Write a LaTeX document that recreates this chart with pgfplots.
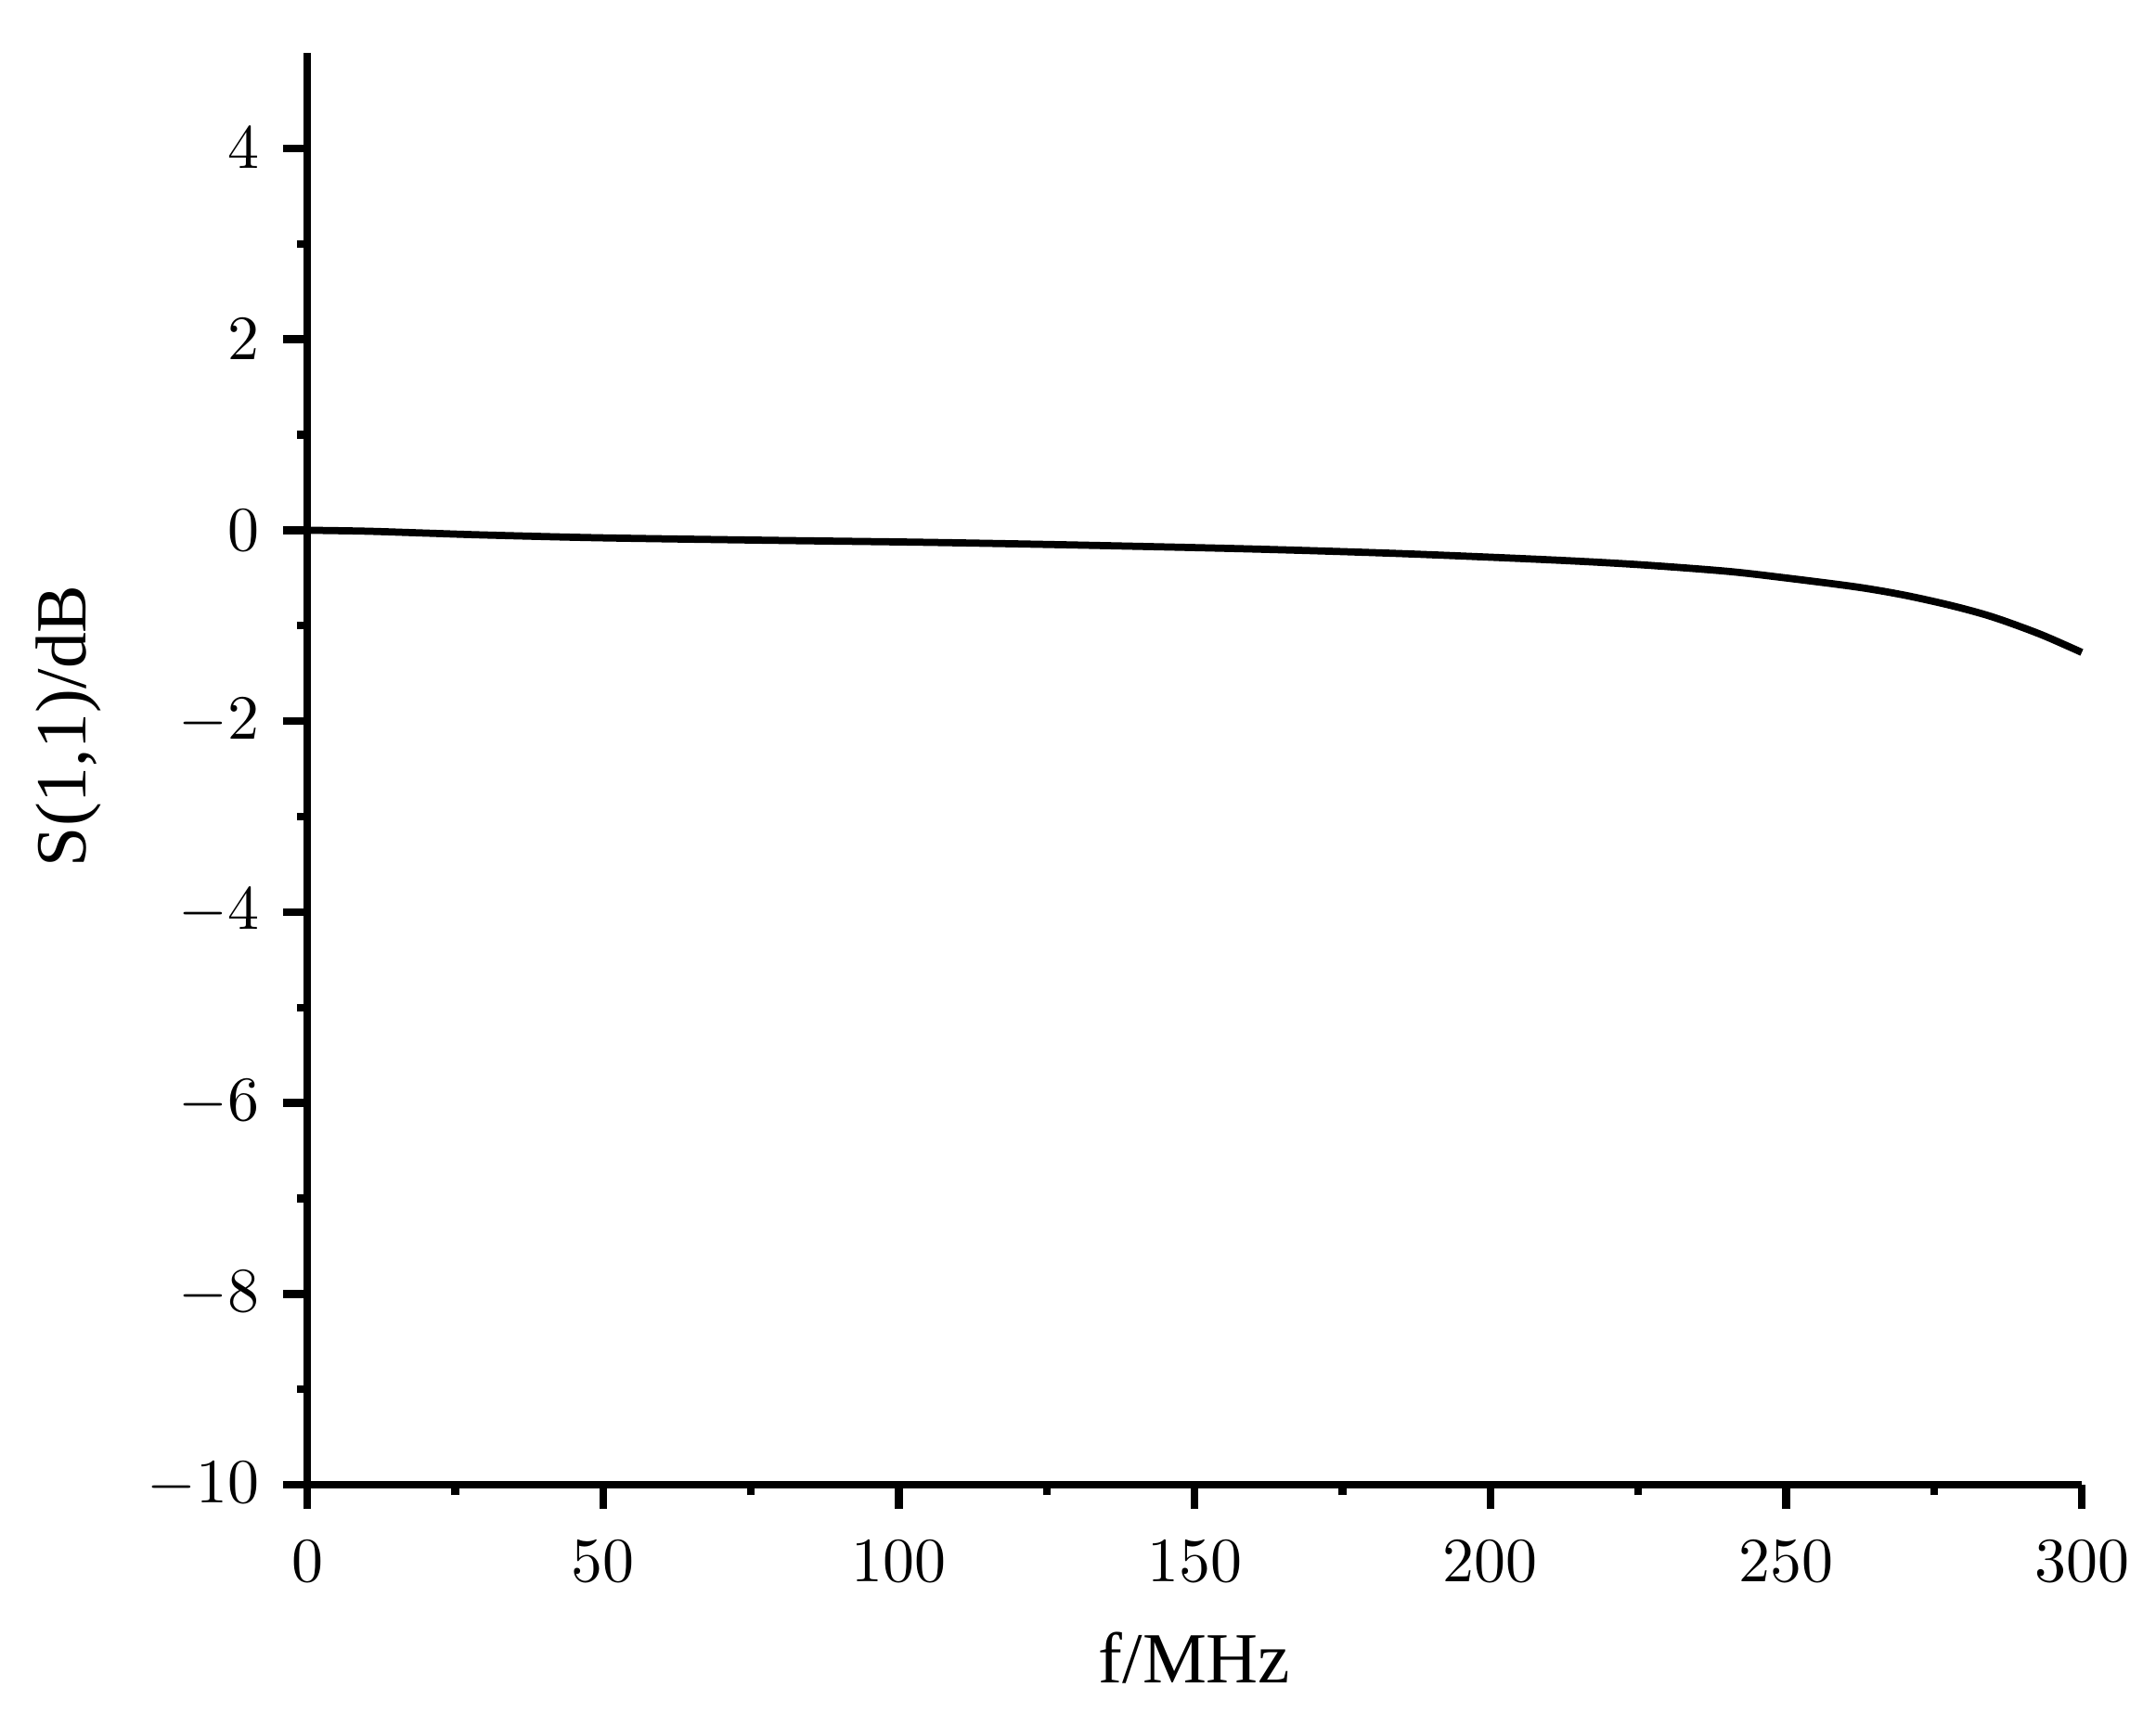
\documentclass[border=0pt]{standalone}
\usepackage{fontspec}
\setmainfont{Liberation Serif}
\usepackage{pgfplots}
\pgfplotsset{compat=1.18}

\begin{document}
\begin{tikzpicture}
\begin{axis}[
  scale only axis,
  width=308.4pt, height=248.9pt,
  xmin=0, xmax=300, ymin=-10, ymax=5,
  xtick={0,50,...,300},
  ytick={-10,-8,...,4},
  minor x tick num=1, minor y tick num=1,
  axis x line*=bottom, axis y line*=left,
  axis line style={line width=1.35pt},
  tick align=outside,
  major tick length=4.2pt, minor tick length=1.8pt,
  every tick/.style={line width=1.35pt, black},
  tick label style={font=\fontsize{10.5}{12}\selectfont},
  xticklabel style={yshift=-2pt},
  yticklabel style={xshift=-0.6pt},
  xlabel={f/MHz}, ylabel={S(1,1)/dB},
  label style={font=\fontsize{12.5}{15}\selectfont},
  xlabel style={at={(axis description cs:0.5,-0.138)}, anchor=base},
  ylabel style={at={(axis description cs:-0.125,0.53)}, anchor=base, rotate=0},
  clip=false]
  \addplot[black, line width=1.25pt, smooth] coordinates {
    (0,0) (10,-0.01) (20,-0.03) (30,-0.05) (50,-0.08) (80,-0.107)
    (105,-0.127) (130,-0.155) (160,-0.197) (185,-0.245) (210,-0.31)
    (225,-0.36) (240,-0.43) (250,-0.50) (262,-0.595) (270,-0.68)
    (278,-0.79) (285,-0.91) (293,-1.09) (300,-1.28)};
\end{axis}
\path (current axis.south west) ++(-53.4pt,-41.8pt)
      (current axis.north east) ++(12.9pt,9.2pt);
\end{tikzpicture}
\end{document}
